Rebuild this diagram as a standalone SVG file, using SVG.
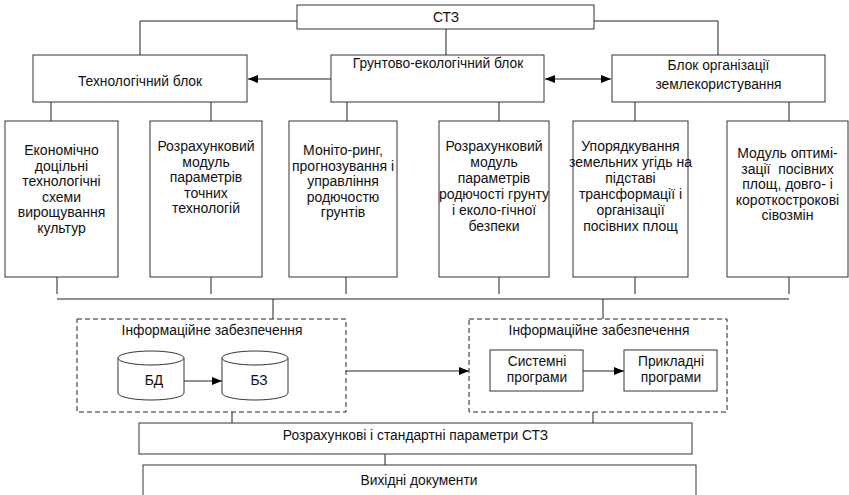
<svg xmlns="http://www.w3.org/2000/svg" width="849" height="495" viewBox="0 0 849 495">
<style>
.box{fill:#fff;stroke:#333;stroke-width:1}
.dash{fill:none;stroke:#222;stroke-width:1;stroke-dasharray:5,3}
.ln{fill:none;stroke:#222;stroke-width:1}
text{font-family:"Liberation Sans",Arial,sans-serif;fill:#111;text-anchor:middle}
.t13{font-size:13.8px}
.t14{font-size:14px}
</style>
<defs>
<marker id="ah" markerUnits="userSpaceOnUse" markerWidth="10" markerHeight="8" refX="10" refY="4" orient="auto-start-reverse">
<path d="M0,0 L10,4 L0,8 z" fill="#000"/>
</marker>
</defs>

<g id="connectors">
<polyline class="ln" points="297,21 140,21 140,55"/>
<polyline class="ln" points="594,21 718,21 718,55"/>
<line class="ln" x1="446" y1="29" x2="446" y2="55"/>
<line class="ln" x1="331" y1="79" x2="248" y2="79" marker-end="url(#ah)"/>
<line class="ln" x1="545" y1="79" x2="611" y2="79" marker-start="url(#ah)" marker-end="url(#ah)"/>
<line class="ln" x1="51" y1="102" x2="51" y2="121"/>
<line class="ln" x1="211" y1="102" x2="211" y2="121"/>
<line class="ln" x1="347" y1="102" x2="347" y2="121"/>
<line class="ln" x1="499" y1="102" x2="499" y2="121"/>
<line class="ln" x1="635" y1="102" x2="635" y2="121"/>
<line class="ln" x1="789" y1="102" x2="789" y2="121"/>
<line class="ln" x1="57" y1="277" x2="57" y2="294"/>
<line class="ln" x1="211" y1="277" x2="211" y2="294"/>
<line class="ln" x1="346" y1="277" x2="346" y2="294"/>
<line class="ln" x1="499" y1="277" x2="499" y2="294"/>
<line class="ln" x1="635" y1="277" x2="635" y2="294"/>
<line class="ln" x1="789" y1="277" x2="789" y2="294"/>
<line class="ln" x1="57" y1="299" x2="789" y2="299"/>
<line class="ln" x1="273" y1="299" x2="273" y2="319"/>
<line class="ln" x1="603" y1="299" x2="603" y2="319"/>
<line class="ln" x1="184" y1="381" x2="222" y2="381" marker-end="url(#ah)"/>
<line class="ln" x1="346" y1="371" x2="469" y2="371" marker-end="url(#ah)"/>
<line class="ln" x1="583" y1="371" x2="624" y2="371" marker-end="url(#ah)"/>
<line class="ln" x1="232" y1="412" x2="232" y2="423"/>
<line class="ln" x1="593" y1="412" x2="593" y2="423"/>
<line class="ln" x1="385" y1="454" x2="385" y2="465"/>
</g>

<g id="stz">
<rect class="box" x="297" y="5" width="297" height="24"/>
<text class="t13" x="446" y="21.5">СТЗ</text>
</g>

<g id="tech-block">
<rect class="box" x="33" y="55" width="214" height="47"/>
<text class="t13" x="140" y="86">Технологічний блок</text>
</g>
<g id="soil-block">
<rect class="box" x="331" y="55" width="213" height="47"/>
<text class="t13" x="438" y="68">Грунтово-екологічний блок</text>
</g>
<g id="land-block">
<rect class="box" x="612" y="55" width="213" height="47"/>
<text class="t13" x="718.5" y="70">Блок організації</text>
<text class="t13" x="718.5" y="89">землекористування</text>
</g>

<g id="m1">
<rect class="box" x="5" y="121" width="113" height="156"/>
<text class="t14" x="61.5" y="155"><tspan x="61.5">Економічно</tspan><tspan x="61.5" dy="15.6">доцільні</tspan><tspan x="61.5" dy="15.6">технологічні</tspan><tspan x="61.5" dy="15.6">схеми</tspan><tspan x="61.5" dy="15.6">вирощування</tspan><tspan x="61.5" dy="15.6">культур</tspan></text>
</g>
<g id="m2">
<rect class="box" x="150" y="121" width="112" height="156"/>
<text class="t14" x="206" y="151"><tspan x="206">Розрахунковий</tspan><tspan x="206" dy="15.6">модуль</tspan><tspan x="206" dy="15.6">параметрів</tspan><tspan x="206" dy="15.6">точних</tspan><tspan x="206" dy="15.6">технологій</tspan></text>
</g>
<g id="m3">
<rect class="box" x="289" y="121" width="108" height="156"/>
<text class="t14" x="343" y="155"><tspan x="343">Моніто-ринг,</tspan><tspan x="343" dy="15.6">прогнозування і</tspan><tspan x="343" dy="15.6">управління</tspan><tspan x="343" dy="15.6">родючостю</tspan><tspan x="343" dy="15.6">грунтів</tspan></text>
</g>
<g id="m4">
<rect class="box" x="439" y="121" width="110" height="156"/>
<text class="t14" x="494" y="151"><tspan x="494">Розрахунковий</tspan><tspan x="494" dy="16">модуль</tspan><tspan x="494" dy="16">параметрів</tspan><tspan x="494" dy="16">родючості грунту</tspan><tspan x="494" dy="16">і еколо-гічної</tspan><tspan x="494" dy="16">безпеки</tspan></text>
</g>
<g id="m5">
<rect class="box" x="573" y="121" width="115" height="156"/>
<text class="t14" x="630.5" y="151"><tspan x="630.5">Упорядкування</tspan><tspan x="630.5" dy="16">земельних угідь на</tspan><tspan x="630.5" dy="16">підставі</tspan><tspan x="630.5" dy="16">трансформації і</tspan><tspan x="630.5" dy="16">організації</tspan><tspan x="630.5" dy="16">посівних площ</tspan></text>
</g>
<g id="m6">
<rect class="box" x="727" y="121" width="121" height="156"/>
<text class="t14" x="787.5" y="158" xml:space="preserve"><tspan x="787.5">Модуль оптимі-</tspan><tspan x="787.5" dy="15.6">зації  посівних</tspan><tspan x="787.5" dy="15.6">площ, довго- і</tspan><tspan x="787.5" dy="15.6">короткострокові</tspan><tspan x="787.5" dy="15.6">сівозмін</tspan></text>
</g>

<g id="info-left">
<rect class="dash" x="77" y="319" width="269" height="93"/>
<text class="t13" x="212" y="335">Інформаційне забезпечення</text>
</g>
<g id="bd">
<path class="box" d="M118,358 L118,393 A33,7 0 0 0 184,393 L184,358"/>
<ellipse class="box" cx="151" cy="358" rx="33" ry="7"/>
<text class="t13" x="154" y="385">БД</text>
</g>
<g id="bz">
<path class="box" d="M222,358 L222,393 A33,7 0 0 0 288,393 L288,358"/>
<ellipse class="box" cx="255" cy="358" rx="33" ry="7"/>
<text class="t13" x="259" y="385">БЗ</text>
</g>

<g id="info-right">
<rect class="dash" x="469" y="319" width="258" height="93"/>
<text class="t13" x="599" y="335">Інформаційне забезпечення</text>
</g>
<g id="sys">
<rect class="box" x="490" y="350" width="93" height="41"/>
<text class="t13" x="537" y="366"><tspan x="537">Системні</tspan><tspan x="537" dy="16">програми</tspan></text>
</g>
<g id="app">
<rect class="box" x="624" y="350" width="93" height="41"/>
<text class="t13" x="671" y="366"><tspan x="671">Прикладні</tspan><tspan x="671" dy="16">програми</tspan></text>
</g>

<g id="params">
<rect class="box" x="139" y="423" width="553" height="31"/>
<text class="t13" x="415.5" y="440">Розрахункові і стандартні параметри СТЗ</text>
</g>
<g id="docs">
<rect class="box" x="143" y="465" width="553" height="40"/>
<text class="t13" x="419" y="485">Вихідні документи</text>
</g>
</svg>
